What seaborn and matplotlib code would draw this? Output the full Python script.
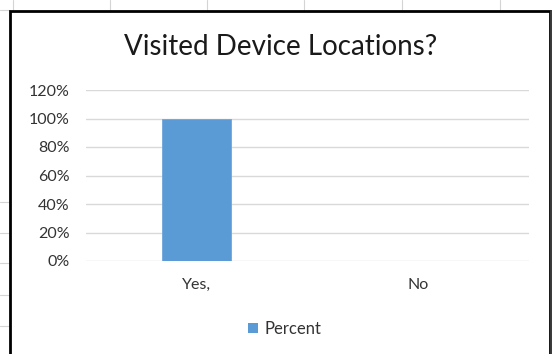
import matplotlib
matplotlib.use("Agg")
import matplotlib.pyplot as plt
import matplotlib.patches as mpatches
import matplotlib.lines as mlines
from matplotlib.ticker import PercentFormatter
import seaborn as sns
import pandas as pd

categories = ["Yes,", "No"]
percent_values = [1.0, 0.0]
series_name = "Percent"
y_ticks = [0, 0.2, 0.4, 0.6, 0.8, 1.0, 1.2]
title = "Visited Device Locations?"

df = pd.DataFrame({"category": categories, "value": percent_values,
                   "series": [series_name] * len(categories)})

sns.set_theme(style="white")
plt.rcParams['font.family'] = ['Lato', 'DejaVu Sans']

W, H = 552, 354
fig = plt.figure(figsize=(W / 100, H / 100), dpi=100)
fig.patch.set_facecolor("white")

def fx(x):
    return x / W

def fy(y):
    return 1 - y / H

# spreadsheet grid outside the chart
grid_c = "#d4d4d4"
for x in [13, 110, 207, 304, 402, 500]:
    fig.add_artist(mlines.Line2D([fx(x), fx(x)], [fy(0), fy(11)], color=grid_c, lw=0.8, zorder=-2))
for y in [10, 202, 233, 263, 295, 326]:
    fig.add_artist(mlines.Line2D([fx(0), fx(10)], [fy(y), fy(y)], color=grid_c, lw=0.8, zorder=-2))

# chart border
fig.add_artist(mpatches.Rectangle((fx(10), fy(360)), fx(540), (360 - 11) / H,
                                  fill=True, facecolor="white", edgecolor="black",
                                  lw=2, zorder=-1))
fig.add_artist(mlines.Line2D([fx(550.5), fx(550.5)], [fy(11), fy(360)], color="#444444", lw=1.2, zorder=-1))

ax = fig.add_axes([fx(86), fy(261), fx(529 - 86), (261 - 90) / H])
ax.set_facecolor("none")
sns.barplot(data=df, x="category", y="value", hue="series", palette=["#5B9BD5"],
            saturation=1, width=0.31, dodge=False, ax=ax, legend=True,
            edgecolor="#6fa6da", linewidth=0.6)

ax.set_ylim(0, 1.2)
ax.set_yticks(y_ticks)
ax.yaxis.set_major_formatter(PercentFormatter(1.0, decimals=0))
ax.grid(axis="y", color="#d9d9d9", lw=1)
ax.set_axisbelow(True)
for s in ax.spines.values():
    s.set_visible(False)
ax.tick_params(axis="both", length=0, labelsize=11.5, labelcolor="#333333")
ax.tick_params(axis="y", pad=12)
ax.tick_params(axis="x", pad=12)
ax.set_xlabel("")
ax.set_ylabel("")

leg = ax.get_legend()
leg.remove()
handle = mpatches.Patch(facecolor="#5B9BD5", edgecolor="none")
fig.legend([handle], [series_name], loc="center", bbox_to_anchor=(fx(285), fy(329)),
           frameon=False, fontsize=12, handlelength=0.6, handleheight=0.6,
           handletextpad=0.4, labelcolor="#333333")

fig.text(fx(281), fy(47), title, ha="center", va="center", fontsize=20, color="#1a1a1a")

fig.savefig("out.png", dpi=100, facecolor="white")
